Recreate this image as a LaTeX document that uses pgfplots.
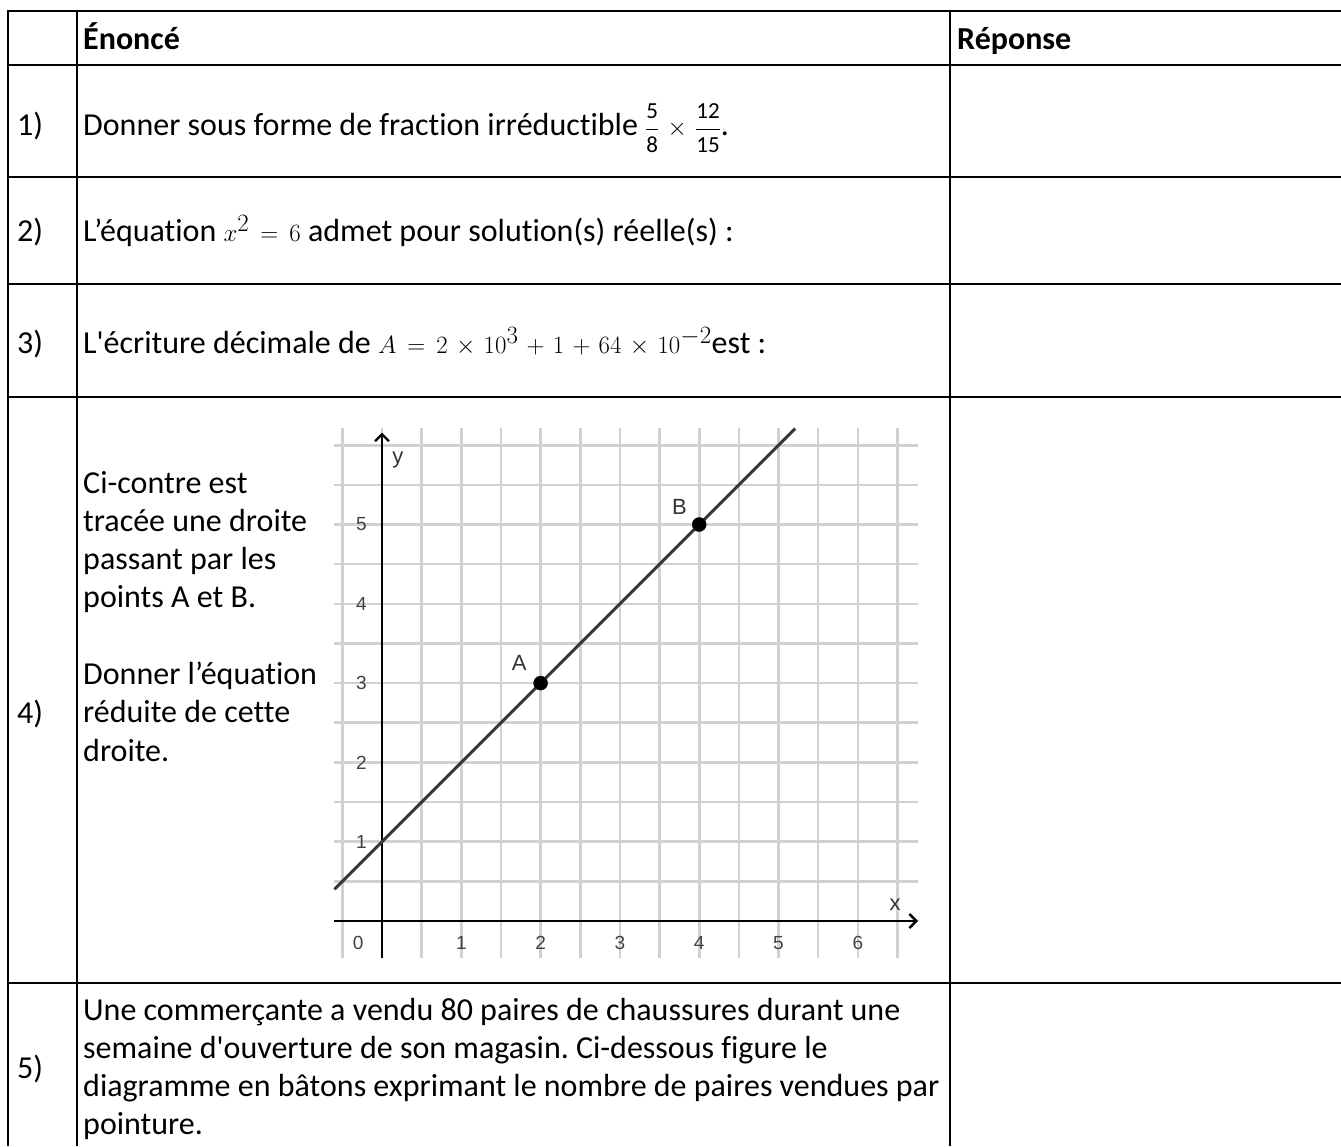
\documentclass[border=0pt]{standalone}
\usepackage{fontspec}
\setmainfont{Carlito}[Ligatures=NoCommon]
\newfontfamily\graphfont{Liberation Sans}
\usepackage{pgfplots}
\pgfplotsset{compat=1.18}
\usetikzlibrary{arrows.meta}
\newcommand{\fr}[2]{{\displaystyle\frac{\mbox{\fontsize{23}{25}\selectfont #1}}{\mbox{\fontsize{23}{25}\selectfont #2}}}}
\begin{document}
\frenchspacing
\thickmuskip=8mu plus 2mu
\medmuskip=6mu plus 2mu
\begin{tikzpicture}[x=1pt,y=-1pt]
\path[use as bounding box] (0,0) rectangle (1341,1146);
\fontsize{32}{38.3}\selectfont
% table lines
\begin{scope}[line width=1.4pt]
\draw (8,1146) -- (8,11) -- (1341,11);
\draw (77,11) -- (77,1146);
\draw (950,11) -- (950,1146);
\foreach \yy in {65,177,284,397,983} \draw (8,\yy) -- (1341,\yy);
\end{scope}
% header
\node[anchor=base west,inner sep=0] at (83,49) {\bfseries Énoncé};
\node[anchor=base west,inner sep=0] at (957,49) {\bfseries Réponse};
% numbers
\node[anchor=base west,inner sep=0] at (17,135) {1)};
\node[anchor=base west,inner sep=0] at (17,241) {2)};
\node[anchor=base west,inner sep=0] at (17,353) {3)};
\node[anchor=base west,inner sep=0] at (17,723) {4)};
\node[anchor=base west,inner sep=0] at (17,1078) {5)};
% row texts
\node[anchor=base west,inner sep=0] at (83,135) {Donner sous forme de fraction irréductible $\fr{5}{8}\times\fr{12}{15}$.};
\node[anchor=base west,inner sep=0] at (83,241) {L’équation {\fontsize{34}{38}\selectfont$x^2=6$} admet pour solution(s) réelle(s) :};
\node[anchor=base west,inner sep=0] at (83,353) {L\textquotesingle écriture décimale de {\fontsize{34}{38}\selectfont$A=2\times10^3+1+64\times10^{-2}$}est :};
\node[anchor=base west,inner sep=0] at (83,493) {Ci-contre est};
\node[anchor=base west,inner sep=0] at (83,531.3) {tracée une droite};
\node[anchor=base west,inner sep=0] at (83,569.6) {passant par les};
\node[anchor=base west,inner sep=0] at (83,607.9) {points A et B.};
\node[anchor=base west,inner sep=0] at (83,684.5) {Donner l’équation};
\node[anchor=base west,inner sep=0] at (83,722.8) {réduite de cette};
\node[anchor=base west,inner sep=0] at (83,761.1) {droite.};
\node[anchor=base west,inner sep=0] at (83,1020) {Une commerçante a vendu 80 paires de chaussures durant une};
\node[anchor=base west,inner sep=0] at (83,1058.3) {semaine d\textquotesingle ouverture de son magasin. Ci-dessous figure le};
\node[anchor=base west,inner sep=0] at (83,1096.6) {diagramme en bâtons exprimant le nombre de paires vendues par};
\node[anchor=base west,inner sep=0] at (83,1134.9) {pointure.};
% graph
\begin{axis}[
  at={(382pt,-921pt)}, anchor=origin,
  x=79.3pt, y=79.3pt,
  xmin=-0.6, xmax=6.76, ymin=-0.47, ymax=6.22,
  axis line style={draw=none},
  xtick={-0.5,0,...,6.5}, ytick={0.5,1,...,6},
  xticklabels={}, yticklabels={},
  major tick length=0pt,
  grid=major,
  major grid style={black!18, line width=2.6pt},
  clip=false,
]
\draw[line width=2.4pt, -{Straight Barb[length=7pt,width=14pt]}] (axis cs:-0.6,0) -- (axis cs:6.76,0);
\draw[line width=2.4pt, -{Straight Barb[length=7pt,width=14pt]}] (axis cs:0,-0.47) -- (axis cs:0,6.16);
\addplot[black!78, line width=3pt] coordinates {(-0.6,0.4) (5.21,6.21)};
\addplot[only marks, mark=*, mark size=7pt, black] coordinates {(2,3) (4,5)};
\node[font=\graphfont\fontsize{19}{20}\selectfont, text=black!75] at (axis cs:-0.26,1) {1};
\node[font=\graphfont\fontsize{19}{20}\selectfont, text=black!75] at (axis cs:-0.26,2) {2};
\node[font=\graphfont\fontsize{19}{20}\selectfont, text=black!75] at (axis cs:-0.26,3) {3};
\node[font=\graphfont\fontsize{19}{20}\selectfont, text=black!75] at (axis cs:-0.26,4) {4};
\node[font=\graphfont\fontsize{19}{20}\selectfont, text=black!75] at (axis cs:-0.26,5) {5};
\node[font=\graphfont\fontsize{19}{20}\selectfont, text=black!75] at (axis cs:-0.3,-0.28) {0};
\node[font=\graphfont\fontsize{19}{20}\selectfont, text=black!75] at (axis cs:1,-0.28) {1};
\node[font=\graphfont\fontsize{19}{20}\selectfont, text=black!75] at (axis cs:2,-0.28) {2};
\node[font=\graphfont\fontsize{19}{20}\selectfont, text=black!75] at (axis cs:3,-0.28) {3};
\node[font=\graphfont\fontsize{19}{20}\selectfont, text=black!75] at (axis cs:4,-0.28) {4};
\node[font=\graphfont\fontsize{19}{20}\selectfont, text=black!75] at (axis cs:5,-0.28) {5};
\node[font=\graphfont\fontsize{19}{20}\selectfont, text=black!75] at (axis cs:6,-0.28) {6};
\node[font=\graphfont\fontsize{22}{24}\selectfont, text=black!80] at (axis cs:0.2,5.82) {y};
\node[font=\graphfont\fontsize{22}{24}\selectfont, text=black!80] at (axis cs:6.47,0.2) {x};
\node[font=\graphfont\fontsize{22}{24}\selectfont, text=black!80] at (axis cs:1.73,3.25) {A};
\node[font=\graphfont\fontsize{22}{24}\selectfont, text=black!80] at (axis cs:3.75,5.22) {B};
\end{axis}
\end{tikzpicture}
\end{document}
